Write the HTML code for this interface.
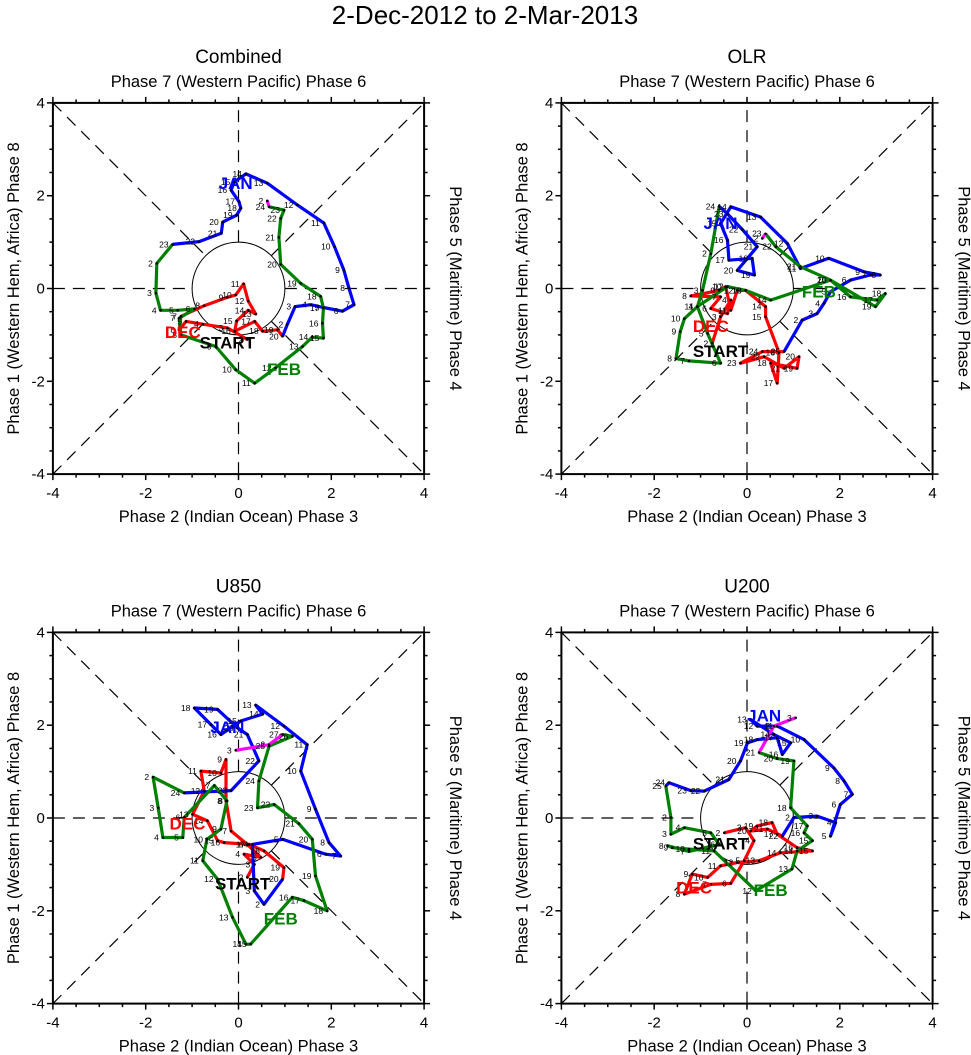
<!DOCTYPE html>
<html><head><meta charset="utf-8"><style>
html,body{margin:0;padding:0;background:#fff;}
svg{display:block;font-family:"Liberation Sans",sans-serif;}
</style></head><body>
<svg id="chart" width="971" height="1055" viewBox="0 0 971 1055" xmlns="http://www.w3.org/2000/svg">
<text x="485" y="24" font-size="26" text-anchor="middle">2-Dec-2012 to 2-Mar-2013</text>
</svg>
<script>
const ticks = [-4,-2,0,2,4];
const tickLabels = ["-4","-2","0","2","4"];
const panelTitles = ["Combined","OLR","U850","U200"];

const combinedDec = [[0.19,-1.10],[-0.24,-0.85],[-0.77,-0.77],[-1.13,-0.71],[-1.28,-0.89],[-1.24,-0.60],[-0.74,-0.37],[-0.24,-0.19],[-0.06,-0.14],[0.11,0.10],[0.21,-0.27],[0.37,-0.55],[0.21,-0.47],[-0.04,-0.70],[-0.08,-0.92],[0.35,-0.71],[0.52,-0.92],[0.84,-0.89],[0.95,-1.03]];
const combinedJan = [[0.95,-1.03],[1.05,-0.78],[1.22,-0.39],[1.56,-0.35],[1.83,-0.41],[2.24,-0.49],[2.49,-0.35],[2.38,0.01],[2.27,0.40],[2.07,0.90],[1.84,1.41],[1.27,1.80],[0.62,2.27],[0.16,2.47],[-0.09,2.30],[-0.16,2.12],[0.01,1.87],[0.05,1.73],[-0.04,1.58],[-0.34,1.43],[-0.37,1.19],[-0.85,1.01],[-1.42,0.95]];
const combinedFeb = [[-1.42,0.95],[-1.76,0.54],[-1.78,-0.10],[-1.68,-0.47],[-1.31,-0.47],[-0.95,-0.44],[-1.28,-0.64],[-1.24,-1.00],[-0.49,-1.25],[-0.06,-1.75],[0.35,-2.04],[0.80,-1.71],[1.38,-1.25],[1.59,-1.05],[1.83,-1.07],[1.81,-0.75],[1.83,-0.42],[1.77,-0.17],[1.34,0.11],[0.91,0.52],[0.87,1.10],[0.91,1.51],[0.98,1.69],[0.66,1.76]];
const combinedMar = [[0.66,1.76],[0.62,1.89]];
const combinedLabels = [[-0.06,2.30],[-1.20,-0.92],[-0.24,-1.14],[0.98,-1.71]];

const olrDec = [[-0.75,-1.18],[-0.57,-0.61],[-0.35,-0.25],[-0.42,-0.54],[-0.78,-0.43],[-0.57,-0.18],[-1.21,-0.16],[-0.60,-0.04],[-0.46,0.04],[-0.35,-0.47],[-0.21,-0.04],[-0.03,-0.04],[0.40,-0.39],[0.40,-0.61],[0.69,-1.38],[0.65,-2.04],[0.51,-1.61],[1.08,-1.72],[1.12,-1.47],[0.80,-1.72],[0.37,-1.47],[-0.14,-1.61],[0.33,-1.36],[0.80,-1.36]];
const olrJan = [[0.80,-1.36],[1.19,-0.68],[1.51,-0.54],[1.66,-0.32],[1.80,-0.07],[2.23,0.18],[2.66,0.29],[2.87,0.29],[2.52,0.36],[1.76,0.65],[1.15,0.43],[0.87,0.97],[0.29,1.54],[-0.35,1.76],[-0.57,1.40],[-0.42,1.04],[-0.39,0.61],[0.11,0.65],[0.16,0.29],[-0.21,0.39],[0.22,0.90],[-0.10,1.27],[-0.42,1.61],[-0.60,1.77]];
const olrFeb = [[-0.60,1.77],[-0.78,0.75],[-0.96,-0.04],[-1.07,-0.39],[-0.85,-0.97],[-0.57,-1.61],[-1.25,-1.56],[-1.53,-1.51],[-1.44,-0.93],[-1.35,-0.65],[-1.07,-0.39],[-0.42,0.04],[-0.03,-0.04],[0.51,-0.25],[1.80,0.18],[2.23,-0.18],[2.80,-0.25],[2.98,-0.11],[2.77,-0.39],[1.80,0.18],[1.15,0.47],[0.62,0.90],[0.40,1.18]];
const olrMar = [[0.40,1.18],[0.33,1.08]];
const olrLabels = [[-0.57,1.43],[-0.78,-0.79],[-0.57,-1.33],[1.55,-0.04]];

const u850Dec = [[0.19,-1.28],[0.34,-1.00],[0.12,-0.78],[0.48,-0.85],[0.19,-0.57],[-0.16,-0.28],[-0.27,0.37],[-0.27,1.26],[-0.38,0.97],[-0.81,1.01],[-0.74,0.58],[-0.99,0.08],[-0.67,-0.06],[-0.45,-0.49],[-0.31,-0.53],[0.23,-0.57],[0.55,-0.71],[0.98,-1.07],[0.95,-1.32]];
const u850Jan = [[0.95,-1.32],[0.55,-1.86],[0.34,-1.57],[0.30,-0.57],[0.95,-0.46],[1.88,-0.78],[2.20,-0.82],[1.95,-0.53],[1.66,0.19],[1.34,1.01],[1.48,1.58],[0.98,1.98],[0.37,2.43],[0.52,2.24],[0.05,2.09],[-0.38,1.80],[-0.59,2.01],[-0.95,2.37],[-0.45,2.34],[-0.02,1.94],[0.19,1.80],[0.44,1.23],[-0.16,0.59],[-1.17,0.54]];
const u850Feb = [[-1.17,0.54],[-1.84,0.88],[-1.73,0.22],[-1.63,-0.42],[-1.20,-0.42],[-1.17,0.01],[-0.52,0.70],[-0.25,0.37],[-0.38,-0.24],[-0.68,-0.46],[-0.77,-0.92],[-0.45,-1.32],[-0.13,-2.14],[0.16,-2.72],[0.26,-2.72],[1.16,-1.71],[1.41,-1.78],[1.91,-2.00],[1.66,-1.25],[1.59,-0.46],[1.30,-0.12],[0.77,0.29],[0.41,0.22],[0.44,0.80],[0.66,1.55],[1.16,1.76],[0.95,1.80]];
const u850Mar = [[0.95,1.80],[0.66,1.58],[-0.06,1.46]];
const u850Labels = [[-0.24,1.98],[-1.10,-0.10],[0.09,-1.39],[0.91,-2.14]];

const u200Dec = [[-0.49,-0.32],[-0.03,-0.21],[0.15,-0.49],[-0.06,-0.92],[-0.35,-1.41],[-0.78,-1.43],[-1.35,-1.64],[-1.18,-1.21],[-0.85,-1.28],[-0.57,-1.03],[-0.21,-0.96],[0.26,-0.92],[0.72,-0.75],[1.41,-0.71],[1.08,-0.64],[0.65,-0.35],[0.54,-0.10],[0.22,-0.17],[0.08,-0.28],[0.44,-0.24],[0.76,-0.39]];
const u200Jan = [[0.76,-0.39],[1.01,0.01],[1.51,0.04],[1.91,-0.10],[1.80,-0.39],[2.01,0.29],[2.27,0.51],[2.09,0.80],[1.87,1.08],[1.23,1.69],[0.65,1.98],[0.22,1.98],[0.08,2.12],[0.58,1.80],[0.94,1.62],[0.76,1.37],[0.65,1.73],[0.22,1.69],[0.01,1.62],[-0.14,1.23],[-0.39,0.83],[-0.92,0.58],[-1.21,0.59],[-1.68,0.76],[-1.75,0.69]];
const u200Feb = [[-1.75,0.69],[-1.64,0.01],[-1.64,-0.35],[-1.35,-0.21],[-0.78,-0.32],[-0.60,-0.57],[-1.25,-0.72],[-1.71,-0.60],[-1.61,-0.64],[-1.25,-0.67],[-0.71,-0.71],[0.19,-1.57],[0.97,-1.10],[1.08,-0.71],[1.41,-0.49],[1.23,-0.32],[1.30,-0.17],[0.94,0.22],[1.01,1.23],[0.65,1.28],[0.26,1.41]];
const u200Mar = [[0.26,1.41],[0.58,1.98],[1.05,2.16]];
const u200Labels = [[0.37,2.23],[-1.14,-1.48],[-0.57,-0.53],[0.51,-1.53]];

const panels = [
  {name:"combined", cx:238.5, cy:288.5, dec:combinedDec, jan:combinedJan, feb:combinedFeb, mar:combinedMar, labels:combinedLabels},
  {name:"olr", cx:747, cy:288.5, dec:olrDec, jan:olrJan, feb:olrFeb, mar:olrMar, labels:olrLabels},
  {name:"u850", cx:238.5, cy:818, dec:u850Dec, jan:u850Jan, feb:u850Feb, mar:u850Mar, labels:u850Labels},
  {name:"u200", cx:747, cy:818, dec:u200Dec, jan:u200Jan, feb:u200Feb, mar:u200Mar, labels:u200Labels}
];
const S = 46.4;
const NS = "http://www.w3.org/2000/svg";
const svg = document.getElementById('chart');
function mk(tag, attrs, parent){
  const e = document.createElementNS(NS, tag);
  for (const k in attrs) e.setAttribute(k, attrs[k]);
  (parent||svg).appendChild(e);
  return e;
}
panels.forEach((p, pi) => {
  const sx = v => p.cx + v*S;
  const sy = v => p.cy - v*S;
  const g = mk('g', {});
  
  
  const L = sx(-4), R = sx(4), T = sy(4), B = sy(-4);
  // dashed reference lines outside unit circle
  const dashAttrs = {stroke:'#000','stroke-width':1.2,'stroke-dasharray':'12,8',fill:'none'};
  const segs = [[[-4,0],[-1,0]],[[1,0],[4,0]],[[0,-4],[0,-1]],[[0,1],[0,4]],
    [[-4,-4],[-0.7071,-0.7071]],[[0.7071,0.7071],[4,4]],[[-4,4],[-0.7071,0.7071]],[[0.7071,-0.7071],[4,-4]]];
  segs.forEach(s => {
    const l = mk('line', Object.assign({x1:sx(s[0][0]),y1:sy(s[0][1]),x2:sx(s[1][0]),y2:sy(s[1][1])}, dashAttrs), g);
    
    
  });
  const c = mk('circle', {cx:p.cx, cy:p.cy, r:S, fill:'none', stroke:'#000','stroke-width':1}, g);
  
  
  // frame
  const fr = mk('rect', {x:L,y:T,width:R-L,height:B-T,fill:'none',stroke:'#000','stroke-width':2}, g);
  
  
  // ticks
  for (let v=-4; v<=4.001; v+=0.5) {
    const major = Math.abs(v - Math.round(v/2)*2) < 1e-6;
    const len = major ? 6 : 3.5;
    mk('line',{x1:sx(v),y1:B,x2:sx(v),y2:B+len,stroke:'#000','stroke-width':1.5},g);
    mk('line',{x1:sx(v),y1:T,x2:sx(v),y2:T-len,stroke:'#000','stroke-width':1.5},g);
    mk('line',{x1:L,y1:sy(v),x2:L-len,y2:sy(v),stroke:'#000','stroke-width':1.5},g);
    mk('line',{x1:R,y1:sy(v),x2:R+len,y2:sy(v),stroke:'#000','stroke-width':1.5},g);
  }
  ticks.forEach((v,i) => {
    const tx = mk('text',{x:sx(v),y:B+24,'font-size':15,'text-anchor':'middle'},g);
    tx.textContent = tickLabels[i];
    
    
    const ty = mk('text',{x:L-8,y:sy(v)+5,'font-size':15,'text-anchor':'end'},g);
    ty.textContent = tickLabels[i];
    
    
  });
  const title = mk('text',{x:p.cx,y:T-40,'font-size':19,'text-anchor':'middle'},g);
  title.textContent = panelTitles[pi];
  
  
  const top = mk('text',{x:p.cx,y:T-16,'font-size':16.5,'text-anchor':'middle'},g);
  top.textContent = 'Phase 7 (Western Pacific) Phase 6';
  
  
  const bot = mk('text',{x:p.cx,y:B+48,'font-size':16.5,'text-anchor':'middle'},g);
  bot.textContent = 'Phase 2 (Indian Ocean) Phase 3';
  
  
  const lx = L - 34;
  const left = mk('text',{x:lx,y:p.cy,'font-size':16.5,'text-anchor':'middle',transform:`rotate(-90 ${lx} ${p.cy})`},g);
  left.textContent = 'Phase 1 (Western Hem, Africa) Phase 8';
  
  
  const rx = R + 26;
  const right = mk('text',{x:rx,y:p.cy,'font-size':16.5,'text-anchor':'middle',transform:`rotate(90 ${rx} ${p.cy})`},g);
  right.textContent = 'Phase 5 (Maritime) Phase 4';
  
  
  // series
  const series = [[p.dec,'#ff0000','dec',2],[p.jan,'#0000ff','jan',1],[p.feb,'#008000','feb',1],[p.mar,'#ff00ff','mar',1]];
  series.forEach(s => {
    const pts = s[0].map(d => sx(d[0]).toFixed(1)+','+sy(d[1]).toFixed(1)).join(' ');
    const pl = mk('polyline',{points:pts,fill:'none',stroke:s[1],'stroke-width':3.2,'stroke-linejoin':'round'},g);
    
    
  });
  series.forEach(s => {
    s[0].forEach((d,i) => {
      if (s[2] !== 'dec' && i === 0) return;
      const dot = mk('circle',{cx:sx(d[0]),cy:sy(d[1]),r:1.3,fill:'#000'},g);
      
      
      const n = mk('text',{x:sx(d[0])-4,y:sy(d[1])+3,'font-size':8.5,'text-anchor':'end',fill:'#000'},g);
      n.textContent = String(i + s[3]);
      
      
    });
  });
  const names = ['JAN','DEC','START','FEB'];
  const cols = ['#0000ff','#ff0000','#000','#008000'];
  p.labels.forEach((d,i) => {
    const t = mk('text',{x:sx(d[0]),y:sy(d[1])+7,'font-size':17,'font-weight':'bold','text-anchor':'middle',fill:cols[i]},g);
    t.textContent = names[i];
    
    
  });
});
</script>
</body></html>
